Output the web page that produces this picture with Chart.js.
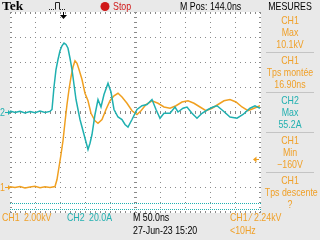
<!DOCTYPE html>
<html>
<head>
<meta charset="utf-8">
<script src="https://cdn.jsdelivr.net/npm/chart.js@4.4.1/dist/chart.umd.min.js"></script>
<style>
  html, body { margin: 0; padding: 0; background: #e9e9e9; }
  #wrap {
    position: relative; width: 320px; height: 240px; overflow: hidden;
    font-family: "Liberation Sans", Arial, sans-serif;
    font-size: 10.5px;
  }
  canvas { position: absolute; left: 0; top: 0; }
  .t { position: absolute; white-space: nowrap; line-height: 12px; transform: scaleX(0.84); transform-origin: 0 0; }
  .o { color: #f0a028; }
  .c { color: #22b0b0; }
  .m { position: absolute; left: 260px; width: 60px; text-align: center; line-height: 12px; white-space: nowrap; transform: scaleX(0.84); transform-origin: 50% 0; }
  .sep { position: absolute; left: 266px; width: 48px; height: 1px; background: #c4c4c4; }
  #tek { font-family: "Liberation Serif", "DejaVu Serif", serif; font-weight: bold; font-size: 13.5px; transform: none; }
</style>
</head>
<body>
<div id="wrap">
  <canvas id="scope" width="320" height="240"></canvas>
  <div class="t" id="tek" style="left:2px; top:0px;">Tek</div>
  <div class="t" style="left:113px; top:0px; color:#d01818;">Stop</div>
  <div class="t" style="left:180px; top:0px;">M Pos: 144.0ns</div>
  <div class="m" style="top:0px; color:#000;">MESURES</div>
  <div class="t o" style="left:0px; top:181px;">1</div>
  <div class="t c" style="left:0px; top:106px;">2</div>
  <div class="t o" style="left:2px; top:211px;">CH1</div>
  <div class="t o" style="left:24px; top:211px;">2.00kV</div>
  <div class="t c" style="left:67px; top:211px;">CH2</div>
  <div class="t c" style="left:89px; top:211px;">20.0A</div>
  <div class="t" style="left:133px; top:211px;">M 50.0ns</div>
  <div class="t" style="left:133px; top:224px;">27-Jun-23 15:20</div>
  <div class="t o" style="left:230px; top:211px;">CH1 &#8260; 2.24kV</div>
  <div class="t o" style="left:230px; top:224px;">&lt;10Hz</div>
  <div id="mesures"></div>
</div>
<script>
// Base de temps et calibres
const X_MIN = 0, X_MAX = 500, X_DIV = 50;       // ns
const CH1_MIN = -2, CH1_MAX = 14, CH1_DIV = 2;  // kV
const CH2_MIN = -80, CH2_MAX = 80, CH2_DIV = 20; // A
const TRIG_TIME = 106;   // ns
const TRIG_LEVEL = 2.24; // kV

// CH1 (tension, kV)
const ch1Time = [0, 10, 20, 30, 40, 50, 60, 70, 80, 90, 94, 98, 102, 106, 110, 114, 118, 122, 126, 130,
  134, 138, 144, 150, 156, 162, 170, 176, 184, 192, 200, 208, 216, 224, 234, 244, 254, 262, 272, 284,
  296, 308, 320, 332, 344, 356, 368, 380, 392, 404, 416, 428, 440, 452, 464, 476, 488, 500];
const ch1Kv = [0.02, -0.04, 0.03, -0.08, 0.0, 0.05, -0.06, 0.02, -0.03, 0.04, 0.6, 1.6, 2.6, 3.7, 5.2, 6.6, 7.8, 8.8, 9.6, 10.1,
  9.9, 9.4, 8.6, 7.5, 6.9, 5.9, 5.3, 5.1, 5.4, 6.2, 6.9, 7.3, 7.5, 7.2, 6.7, 6.1, 5.8, 6.1, 6.6, 6.9,
  6.7, 6.4, 6.3, 6.5, 6.8, 6.9, 6.7, 6.4, 6.1, 6.3, 6.6, 6.9, 7.0, 6.8, 6.4, 6.1, 6.3, 6.5];

// CH2 (courant, A)
const ch2Time = [0, 10, 20, 30, 40, 50, 60, 70, 80, 84, 88, 92, 96, 100, 104, 108, 112, 116, 120, 124,
  128, 132, 136, 140, 146, 152, 156, 160, 164, 170, 176, 182, 188, 196, 202, 208, 216, 224, 230, 236,
  244, 254, 264, 274, 284, 292, 300, 308, 320, 330, 336, 346, 354, 364, 374, 384, 396, 406, 414, 426,
  440, 454, 466, 480, 490, 500];
const ch2Amp = [0.8, -0.4, 0.6, -0.8, 0.4, -0.5, 0.7, -0.3, 0.5, 2, 20, 34, 42, 49, 53, 55.2, 54, 51, 43, 34,
  22, 10, 2, -6, -15, -24, -30, -25, -18, -2, 10, 4, 14, 23, 16, 2, -4, -6, -10, -12,
  -6, 2, 5, 6, 10, 2, -5, -1, -1, 4, 0, 3, 4, -1, -5, -1, 2, 4, 5, 1,
  -4, -5, -2, 3, 5, 3];

// Panneau MESURES
const mesSource = ["CH1", "CH1", "CH2", "CH1", "CH1"];
const mesName = ["Max", "Tps montée", "Max", "Min", "Tps descente"];
const mesValue = ["10.1kV", "16.90ns", "55.2A", "\u2212160V", "?"];

const CH1_COLOR = "#f0a020";
const CH2_COLOR = "#1fb0b0";
const GRID_COLOR = "#8a8a8a";

function buildMesures() {
  const box = document.getElementById("mesures");
  mesSource.forEach((src, i) => {
    const top = 12 + i * 40;
    const cls = src === "CH2" ? "c" : "o";
    [src, mesName[i], mesValue[i]].forEach((txt, j) => {
      const d = document.createElement("div");
      d.className = "m " + cls;
      d.style.top = top + 2 + j * 12 + "px";
      d.textContent = txt;
      box.appendChild(d);
    });
    if (i > 0) {
      const s = document.createElement("div");
      s.className = "sep";
      s.style.top = top + "px";
      box.appendChild(s);
    }
  });
}

// Graticule pointillée + repères
const graticule = {
  id: "graticule",
  beforeDatasetsDraw(chart) {
    const { ctx, chartArea: a, scales } = chart;
    const L = Math.round(a.left), R = Math.round(a.right);
    const T = Math.round(a.top), B = Math.round(a.bottom);
    ctx.save();
    ctx.fillStyle = "#ffffff";
    ctx.fillRect(L, T, R - L + 1, B - T + 1);
    ctx.fillStyle = GRID_COLOR;
    const cx = Math.round(scales.x.getPixelForValue((X_MIN + X_MAX) / 2));
    const cy = Math.round(scales.y2.getPixelForValue(0));
    for (let t = X_MIN; t <= X_MAX; t += X_DIV) {
      const px = Math.round(scales.x.getPixelForValue(t));
      for (let py = T; py <= B; py += 5) ctx.fillRect(px, py, 1, 1);
    }
    for (let v = CH1_MIN; v <= CH1_MAX; v += CH1_DIV) {
      const py = Math.round(scales.y.getPixelForValue(v));
      for (let px = L; px <= R; px += 5) ctx.fillRect(px, py, 1, 1);
    }
    // petites graduations sur les axes centraux et le cadre
    for (let px = L; px <= R; px += 5) {
      ctx.fillRect(px, cy - 1, 1, 3);
      ctx.fillRect(px, T, 1, 2);
      ctx.fillRect(px, B - 1, 1, 2);
    }
    for (let py = T; py <= B; py += 5) {
      ctx.fillRect(cx - 1, py, 3, 1);
      ctx.fillRect(L, py, 2, 1);
      ctx.fillRect(R - 1, py, 2, 1);
    }
    // lignes pointillées cyan en bas
    ctx.fillStyle = CH2_COLOR;
    [203, 209].forEach((py) => {
      for (let px = L; px <= R; px += 2) ctx.fillRect(px, py, 1, 1);
    });
    ctx.restore();
  },
  afterDraw(chart) {
    const { ctx, scales } = chart;
    ctx.save();
    // repères de masse
    const g1 = Math.round(scales.y.getPixelForValue(0)) + 0.5;
    const g2 = Math.round(scales.y2.getPixelForValue(0)) + 0.5;
    [[g1, CH1_COLOR], [g2, CH2_COLOR]].forEach(([py, col]) => {
      ctx.strokeStyle = col;
      ctx.fillStyle = col;
      ctx.lineWidth = 1;
      ctx.beginPath();
      ctx.moveTo(5, py);
      ctx.lineTo(9, py);
      ctx.stroke();
      ctx.beginPath();
      ctx.moveTo(11, py);
      ctx.lineTo(8, py - 2.5);
      ctx.lineTo(8, py + 2.5);
      ctx.closePath();
      ctx.fill();
    });
    // niveau de déclenchement
    const tl = Math.round(scales.y.getPixelForValue(TRIG_LEVEL)) + 0.5;
    ctx.fillStyle = CH1_COLOR;
    ctx.strokeStyle = CH1_COLOR;
    ctx.beginPath();
    ctx.moveTo(253, tl);
    ctx.lineTo(256.5, tl - 3);
    ctx.lineTo(256.5, tl + 3);
    ctx.closePath();
    ctx.fill();
    ctx.beginPath();
    ctx.moveTo(256, tl);
    ctx.lineTo(259, tl);
    ctx.stroke();
    // position du déclenchement
    const tp = Math.round(scales.x.getPixelForValue(TRIG_TIME)) + 0.5;
    ctx.fillStyle = "#000";
    ctx.strokeStyle = "#000";
    ctx.beginPath();
    ctx.moveTo(tp, 12);
    ctx.lineTo(tp, 16);
    ctx.stroke();
    ctx.beginPath();
    ctx.moveTo(tp - 3.5, 15);
    ctx.lineTo(tp + 3.5, 15);
    ctx.lineTo(tp, 19);
    ctx.closePath();
    ctx.fill();
    // icône de déclenchement
    ctx.strokeStyle = "#222";
    ctx.beginPath();
    ctx.moveTo(55.5, 9.5);
    ctx.lineTo(55.5, 2.5);
    ctx.lineTo(59.5, 2.5);
    ctx.lineTo(59.5, 9.5);
    ctx.stroke();
    ctx.fillStyle = "#222";
    for (let px = 49; px < 55; px += 2) ctx.fillRect(px, 9, 1, 1);
    for (let px = 60; px < 66; px += 2) ctx.fillRect(px, 9, 1, 1);
    // voyant Stop
    ctx.fillStyle = "#d01818";
    ctx.beginPath();
    ctx.arc(105, 6.5, 4.5, 0, Math.PI * 2);
    ctx.fill();
    ctx.restore();
  },
};

function initScope() {
  buildMesures();
  const ctx = document.getElementById("scope").getContext("2d");
  new Chart(ctx, {
    type: "line",
    data: {
      datasets: [
        {
          label: "CH1",
          data: ch1Time.map((t, i) => ({ x: t, y: ch1Kv[i] })),
          yAxisID: "y",
          borderColor: CH1_COLOR,
          borderWidth: 1.5,
          pointRadius: 0,
          tension: 0,
          order: 2,
        },
        {
          label: "CH2",
          data: ch2Time.map((t, i) => ({ x: t, y: ch2Amp[i] })),
          yAxisID: "y2",
          borderColor: CH2_COLOR,
          borderWidth: 1.5,
          pointRadius: 0,
          tension: 0,
          order: 1,
        },
      ],
    },
    options: {
      responsive: false,
      animation: false,
      devicePixelRatio: 1,
      layout: { padding: { left: 10, top: 12, right: 60, bottom: 28 } },
      plugins: { legend: { display: false }, tooltip: { enabled: false } },
      scales: {
        x: { type: "linear", min: X_MIN, max: X_MAX, display: false },
        y: { type: "linear", min: CH1_MIN, max: CH1_MAX, display: false },
        y2: { type: "linear", min: CH2_MIN, max: CH2_MAX, display: false },
      },
    },
    plugins: [graticule],
  });
}

document.addEventListener("DOMContentLoaded", initScope);
</script>
</body>
</html>
